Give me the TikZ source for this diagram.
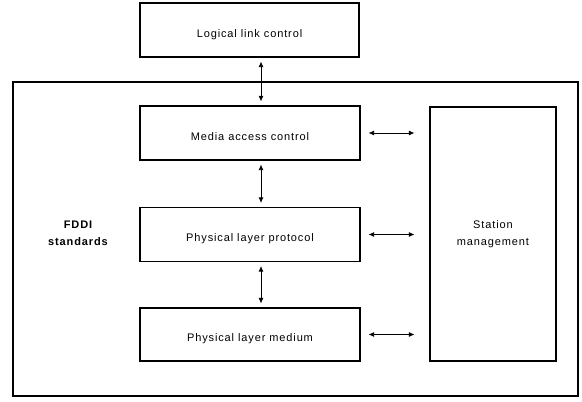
\documentclass[tikz,border=0pt]{standalone}
\usepackage{fontspec}
\setmainfont{Liberation Sans}[LetterSpace=8]
\usetikzlibrary{arrows.meta}
\begin{document}
\begin{tikzpicture}[x=1pt,y=-1pt,
  box/.style={draw,line width=1.1pt,inner sep=0pt,font=\fontsize{11}{17}\selectfont,align=center},
  onebox/.style={box,text height=14pt,text depth=0pt},
  conn/.style={{Latex[length=5.5pt,width=5pt]}-{Latex[length=5.5pt,width=5pt]},line width=0.8pt},
  lbl/.style={font=\fontsize{11}{17}\selectfont\bfseries,align=center}]
\useasboundingbox (0,0) rectangle (582,402);
\node[onebox,minimum width=219pt,minimum height=54pt] (llc) at (249.5,30) {Logical link control};
\node[draw,line width=1.1pt,minimum width=565pt,minimum height=314pt,inner sep=0pt] (outer) at (295.5,239) {};
\node[onebox,minimum width=220pt,minimum height=54pt] (mac) at (250,133) {Media access control};
\node[onebox,minimum width=220pt,minimum height=54pt] (plp) at (250,234.5) {Physical layer protocol};
\node[onebox,minimum width=220pt,minimum height=53pt] (plm) at (250,334.5) {Physical layer medium};
\node[box,minimum width=126pt,minimum height=254pt] (sm) at (493,234) {Station\\management};
\node[lbl] (fddi) at (78,233) {FDDI\\standards};
\draw[conn,shorten <=4pt,shorten >=4pt] ([xshift=11.5pt]llc.south) -- ([xshift=11pt]mac.north);
\draw[conn,shorten <=4pt,shorten >=4pt] ([xshift=11pt]mac.south) -- ([xshift=11pt]plp.north);
\draw[conn,shorten <=4pt,shorten >=4pt] ([xshift=11pt]plp.south) -- ([xshift=11pt]plm.north);
\draw[conn,shorten <=8pt,shorten >=15pt] (mac.east) -- (mac.east -| sm.west);
\draw[conn,shorten <=8pt,shorten >=15pt] (plp.east) -- (plp.east -| sm.west);
\draw[conn,shorten <=8pt,shorten >=15pt] (plm.east) -- (plm.east -| sm.west);
\end{tikzpicture}
\end{document}
